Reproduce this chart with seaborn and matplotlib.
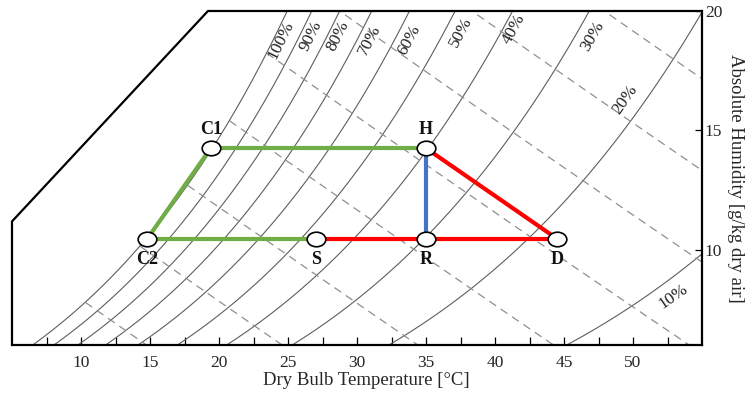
import numpy as np
import pandas as pd
import matplotlib
matplotlib.use("Agg")
import matplotlib.pyplot as plt
import seaborn as sns
from matplotlib.path import Path

# ---------------- data ----------------
rh_levels = [100, 90, 80, 70, 60, 50, 40, 30, 20, 10]
rh_label_T = [24.5, 26.7, 28.6, 30.9, 33.8, 37.5, 41.4, 47.1, 49.4, 52.9]
rh_label_W = [18.8, 18.95, 18.95, 18.8, 18.8, 19.1, 19.25, 18.95, 16.3, 8.05]
enthalpy_levels = [30, 40, 50, 60, 70, 80, 90, 100]

point_names = ["C1", "H", "C2", "S", "R", "D"]
point_T = [19.4, 35.0, 14.8, 27.0, 35.0, 44.5]
point_W = [14.25, 14.25, 10.45, 10.45, 10.45, 10.45]
label_side = ["above", "above", "below", "below", "below", "below"]

seg_from = ["C1", "C1", "C2", "S", "R", "H", "H"]
seg_to = ["H", "C2", "S", "R", "D", "D", "R"]
seg_color = ["#70ad47", "#70ad47", "#70ad47", "#ff0000", "#ff0000", "#ff0000", "#4472c4"]

frame_T = [5, 5, 19.2, 55]
frame_W = [6, 11.18, 20, 20]

x_major = [10, 15, 20, 25, 30, 35, 40, 45, 50]
x_minor = [7.5, 12.5, 17.5, 22.5, 27.5, 32.5, 37.5, 42.5, 47.5, 52.5]
y_major = [10, 15, 20]

P_ATM = 101.325


def psat(t):
    return 0.61078 * np.exp(17.27 * t / (t + 237.3))


def w_rh(t, rh):
    pv = rh / 100.0 * psat(t)
    return 622.0 * pv / (P_ATM - pv)


def w_h(t, h):
    return 1000.0 * (h - 1.006 * t) / (2501.0 + 1.86 * t)


# ---------------- figure ----------------
sns.set_theme(style="white")
plt.rcParams["font.family"] = ["Liberation Serif", "DejaVu Serif"]

fig = plt.figure(figsize=(7.49, 3.94), dpi=100)
ax = fig.add_axes([12 / 749, 49 / 394, 690 / 749, 334 / 394])
ax.set_xlim(5, 55)
ax.set_ylim(6, 20)

# RH curves
tt = np.linspace(0, 60, 400)
rows = []
for rh in rh_levels:
    for t in tt:
        rows.append((rh, t, w_rh(t, rh)))
rh_df = pd.DataFrame(rows, columns=["rh", "T", "W"])
sns.lineplot(data=rh_df, x="T", y="W", units="rh", estimator=None, sort=False,
             color="#5e5e5e", lw=0.8, ax=ax, zorder=1)

# enthalpy (dashed) lines, starting at saturation curve
for h in enthalpy_levels:
    t_all = np.linspace(0, 60, 2000)
    w_line = w_h(t_all, h)
    mask = w_line <= w_rh(t_all, 100)
    t_seg = t_all[mask]
    ax.plot(t_seg, w_h(t_seg, h), color="#8f8f8f", lw=0.9,
            linestyle=(0, (6.5, 4.5)), zorder=1)

# RH labels
for rh, lt, lw_ in zip(rh_levels, rh_label_T, rh_label_W):
    tc = np.linspace(0, 60, 4000)
    wc = w_rh(tc, rh)
    i = np.argmin(np.abs(wc - lw_))
    p1 = ax.transData.transform((tc[i - 5], wc[i - 5]))
    p2 = ax.transData.transform((tc[i + 5], wc[i + 5]))
    ang = np.degrees(np.arctan2(p2[1] - p1[1], p2[0] - p1[0]))
    ax.text(lt, lw_, f"{rh}%", rotation=ang, rotation_mode="anchor",
            ha="center", va="center", fontsize=12.5, color="#222222", zorder=2)

# process lines
pt = dict(zip(point_names, zip(point_T, point_W)))
for a, b, c in zip(seg_from, seg_to, seg_color):
    ax.plot([pt[a][0], pt[b][0]], [pt[a][1], pt[b][1]], color=c, lw=3,
            solid_capstyle="butt", zorder=3)

# state points (ellipse markers)
circ = Path.unit_circle()
ell = Path(circ.vertices * np.array([1.28, 1.0]), circ.codes)
pts_df = pd.DataFrame({"T": point_T, "W": point_W, "name": point_names})
sns.scatterplot(data=pts_df, x="T", y="W", marker=ell, s=180, color="white",
                edgecolor="black", linewidth=1.2, ax=ax, zorder=5)
for n, t, w, side in zip(point_names, point_T, point_W, label_side):
    dy = 13.5 if side == "above" else -15
    ax.annotate(n, (t, w), xytext=(0, dy), textcoords="offset points",
                ha="center", va="center", fontsize=13, fontweight="bold",
                color="#111111", zorder=6)

# frame
ax.plot(frame_T, frame_W, color="black", lw=1.6, clip_on=False, zorder=7,
        solid_joinstyle="miter")
for s in ["left", "top"]:
    ax.spines[s].set_visible(False)
for s in ["right", "bottom"]:
    ax.spines[s].set_visible(True)
    ax.spines[s].set_color("black")
    ax.spines[s].set_linewidth(1.6)
    ax.spines[s].set_zorder(7)

ax.set_xticks(x_major)
ax.set_xticks(x_minor, minor=True)
ax.set_xticklabels([str(v) for v in x_major], fontsize=12.5)
ax.yaxis.tick_right()
ax.yaxis.set_label_position("right")
ax.set_yticks(y_major)
ax.set_yticklabels([str(v) for v in y_major], fontsize=12.5)
ax.tick_params(axis="x", which="both", direction="in", length=5.5, width=0.9,
               color="black", bottom=True, pad=7)
ax.tick_params(axis="y", which="both", direction="in", length=5, width=0.9,
               color="black", right=True, left=False, pad=2)
ax.grid(False)

ax.set_xlabel("Dry Bulb Temperature [°C]", fontsize=13.5)
ax.xaxis.label.set_va("center")
ax.xaxis.set_label_coords(0.513, -0.105)
ax.set_ylabel("Absolute Humidity [g/kg dry air]", fontsize=13.5, rotation=270)
ax.yaxis.label.set_va("center")
ax.yaxis.label.set_ha("center")
ax.yaxis.set_label_coords(1.048, 0.5)

fig.savefig("out.png", dpi=100)
